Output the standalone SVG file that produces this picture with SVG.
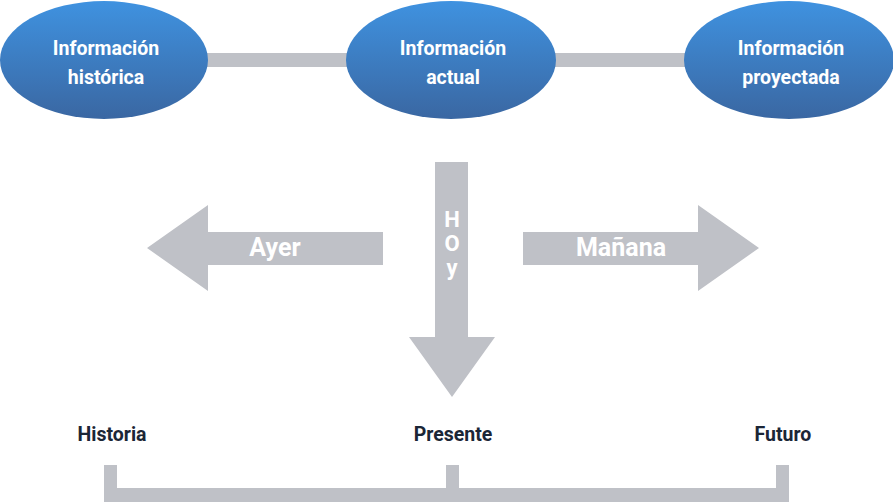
<svg xmlns="http://www.w3.org/2000/svg" width="893" height="502" viewBox="0 0 893 502">
<defs>
<linearGradient id="g" x1="0" y1="0" x2="0" y2="1">
<stop offset="0" stop-color="#3f92e0"/>
<stop offset="1" stop-color="#3a67a2"/>
</linearGradient>
<style>
.e{fill:url(#g)}
.g{fill:#bfc1c7}
.t{font-family:Roboto,"Liberation Sans",sans-serif;font-weight:bold;font-size:19.5px;fill:#fff;text-anchor:middle}
.a{font-family:Roboto,"Liberation Sans",sans-serif;font-weight:bold;font-size:25px;fill:#fff;text-anchor:middle}
.h{font-family:Roboto,"Liberation Sans",sans-serif;font-weight:bold;font-size:22px;fill:#fff;text-anchor:middle}
.b{font-family:Roboto,"Liberation Sans",sans-serif;font-weight:bold;font-size:19.5px;fill:#1b2636;text-anchor:middle}
</style>
</defs>
<rect width="893" height="502" fill="#fff"/>
<g id="connectors">
<rect class="g" x="200" y="53" width="500" height="14"/>
<polygon id="arrow-hoy" class="g" points="435,162 468,162 468,337 495,337 452,397 409,337 435,337"/>
<polygon id="arrow-ayer" class="g" points="383,232 383,265 208,265 208,291 147,248 208,205 208,232"/>
<polygon id="arrow-manana" class="g" points="523,232 523,265 698,265 698,291 759,248 698,205 698,232"/>
<path id="bracket" class="g" d="M104,465 H117 V488 H446 V465 H459 V488 H776 V465 H789 V502 H104 Z"/>
</g>
<g id="n1"><ellipse class="e" cx="104" cy="60" rx="104" ry="59"/><text class="t" x="106" y="55">Información</text><text class="t" x="106" y="84">histórica</text></g>
<g id="n2"><ellipse class="e" cx="451" cy="60" rx="105" ry="59"/><text class="t" x="453" y="55">Información</text><text class="t" x="453" y="84">actual</text></g>
<g id="n3"><ellipse class="e" cx="789" cy="60" rx="105" ry="59"/><text class="t" x="791" y="55">Información</text><text class="t" x="791" y="84">proyectada</text></g>
<g id="labels">
<text class="a" x="275" y="256">Ayer</text>
<text class="a" x="621" y="256">Mañana</text>
<text class="h" x="452" y="227">H</text>
<text class="h" x="452" y="251">O</text>
<text class="h" x="452" y="275">y</text>
<text class="b" x="112" y="441">Historia</text>
<text class="b" x="453" y="441">Presente</text>
<text class="b" x="783" y="441">Futuro</text>
</g>
</svg>
